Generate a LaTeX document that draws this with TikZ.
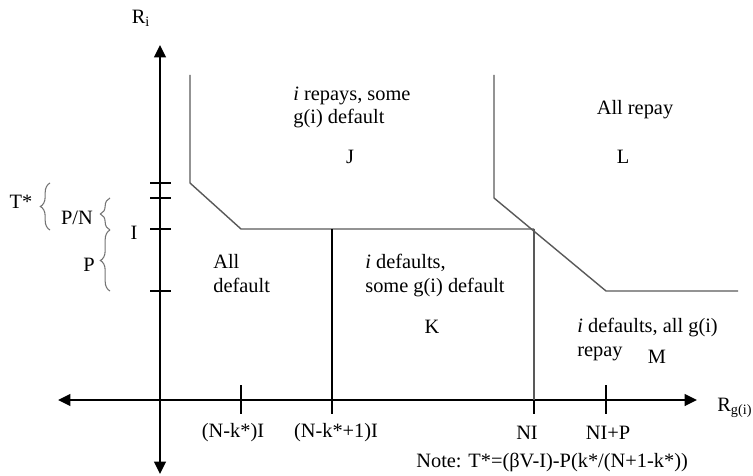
\documentclass[tikz,border=0pt]{standalone}
\usepackage{fontspec}
\setmainfont{Liberation Serif}
\usetikzlibrary{arrows.meta,decorations.pathreplacing}

\begin{document}
\begin{tikzpicture}[x=0.02cm,y=-0.02cm,
	axis/.style={line width=1.6pt,{Triangle[length=7pt,width=6.5pt]}-{Triangle[length=7pt,width=6.5pt]}},
	bound/.style={line width=0.8pt,black!65},
	tickmark/.style={line width=0.7pt},
	lbl/.style={font=\fontsize{11.6}{13.2}\selectfont,inner sep=0pt},
	region/.style={lbl,align=left,anchor=base west},
	brc/.style={decorate,decoration={brace,amplitude=5.5pt},black!55,line width=0.6pt}]
	\useasboundingbox (0,0) rectangle (753,476);
	% axes R_i and R_g(i)
	\coordinate (O) at (160,400);
	\draw[axis] (160,474) -- (160,45);
	\draw[axis] (58,400) -- (697,400);
	\node[lbl] (ri) at (141,18) {R\textsubscript{i}};
	\node[lbl,anchor=base west] (rg) at (717,411) {R\textsubscript{g(i)}};
	% ticks on both axes
	\foreach \y in {183,198,229,291}
		\draw[tickmark] (150,\y) -- (171,\y);
	\foreach \x in {241,332,534,606}
		\draw[tickmark] (\x,385) -- (\x,414);
	% boundary of region J
	\draw[bound] (190,75) -- (190,183) -- (241,229) -- (534,229);
	\draw[line width=0.8pt] (332,229) -- (332,400);
	\draw[bound] (534,229) -- (534,400);
	% boundary of region L
	\draw[bound] (494,75) -- (494,198) -- (606,291) -- (738,291);
	% braces on the left
	\draw[brc] (50,230) -- (50,183);
	\draw[brc] (110,230) -- (110,198);
	\draw[brc] (110,291) -- (110,230);
	\node[lbl] (tstar) at (21,202) {T*};
	\node[lbl] (pn) at (77,218) {P/N};
	\node[lbl] (ii) at (134,233) {I};
	\node[lbl] (pp) at (89,265) {P};
	% region labels (base = last line)
	\node[region] (jtxt) at (293,124) {\textit{i} repays, some\\g(i) default};
	\node[lbl] (jj) at (350,157) {J};
	\node[region] (alldef) at (213,292) {All\\default};
	\node[region] (ktxt) at (365,292) {\textit{i} defaults,\\some g(i) default};
	\node[lbl] (kk) at (432,327) {K};
	\node[lbl] (allrep) at (635,110) {All repay};
	\node[lbl] (ll) at (623,157) {L};
	\node[region] (mtxt) at (577,356) {\textit{i} defaults, all g(i)\\repay};
	\node[lbl] (mm) at (657,357) {M};
	% tick labels on R_g(i)
	\node[lbl] (t1) at (233,433) {(N-k*)I};
	\node[lbl] (t2) at (336,433) {(N-k*+1)I};
	\node[lbl] (t3) at (527,433) {NI};
	\node[lbl] (t4) at (608,433) {NI+P};
	% note
	\node[lbl,anchor=west] (note) at (416,462) {Note: T*=(βV-I)-P(k*/(N+1-k*))};
\end{tikzpicture}
\end{document}
